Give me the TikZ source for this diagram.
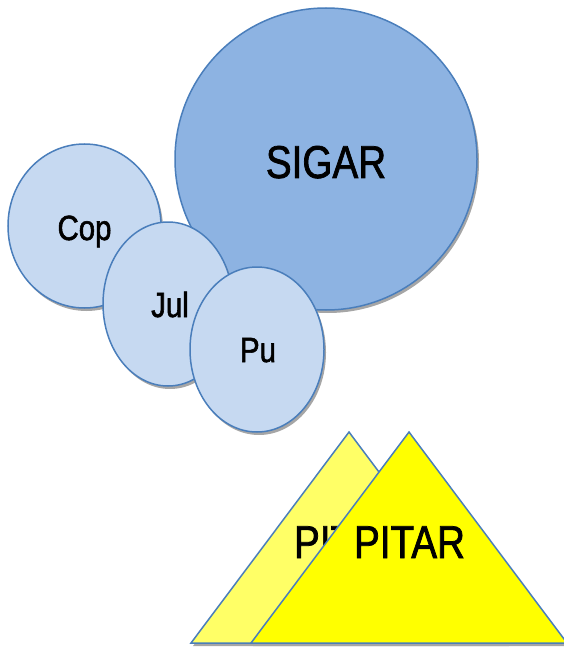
\documentclass[tikz,border=0pt]{standalone}
\usepackage{fontspec}
\setmainfont{Liberation Sans}[FakeStretch=0.84, FakeBold=1.6]
\usetikzlibrary{shapes.geometric,shadows}
\definecolor{edgeblue}{HTML}{4A7EBB}
\definecolor{bigfill}{HTML}{8DB3E2}
\definecolor{smallfill}{HTML}{C6D9F1}
\definecolor{paleyellow}{HTML}{FFFF66}
\definecolor{brightyellow}{HTML}{FFFF00}
\definecolor{shadowgray}{HTML}{A6A6A6}
\tikzset{
  blob/.style={ellipse, draw=edgeblue, line width=1.5pt, inner sep=0pt,
    drop shadow={shadow xshift=2pt, shadow yshift=-3pt, fill=shadowgray, opacity=1}},
  smallblob/.style={blob, fill=smallfill},
  label35/.style={anchor=base, inner sep=0pt, font=\fontsize{35}{40}\selectfont},
  label46/.style={anchor=base, inner sep=0pt, font=\fontsize{46}{52}\selectfont},
  tri/.style={draw=edgeblue, line width=1.5pt, line join=miter},
}
\begin{document}
\begin{tikzpicture}[x=1pt,y=-1pt]
\useasboundingbox (0,0) rectangle (564,647);
% circles
\node[blob, fill=bigfill, minimum width=302pt, minimum height=302pt] (sigar) at (326,159) {};
\node[smallblob, minimum width=153pt, minimum height=164pt] (cop) at (84.5,226) {};
\node[smallblob, minimum width=130pt, minimum height=164pt] (jul) at (168,304) {};
\node[smallblob, minimum width=134pt, minimum height=165pt] (pu) at (257,349.5) {};
\node[label46] (sigartext) at (326,178) {SIGAR};
\node[label35] (coptext) at (84.5,240) {Cop};
\node[label35] (jultext) at (170,317) {Jul};
\node[label35] (putext) at (258,362) {Pu};
% triangles
\coordinate (ba) at (349,432);
\coordinate (bl) at (191,643);
\coordinate (br) at (507,643);
\coordinate (fa) at (409,432);
\coordinate (fl) at (251,643);
\coordinate (fr) at (567,643);
\fill[shadowgray] ([shift={(2,3)}]bl) -- ([shift={(2,3)}]ba) -- ([shift={(2,3)}]br) -- cycle;
\draw[tri, fill=paleyellow] (bl) -- (ba) -- (br) -- cycle;
\node[label46] (backtext) at (349.5,558) {PITAR};
\fill[shadowgray] ([shift={(2,3)}]fl) -- ([shift={(2,3)}]fa) -- ([shift={(2,3)}]fr) -- cycle;
\draw[tri, fill=brightyellow] (fl) -- (fa) -- (fr) -- cycle;
\node[label46] (fronttext) at (409.5,558) {PITAR};
\end{tikzpicture}
\end{document}
